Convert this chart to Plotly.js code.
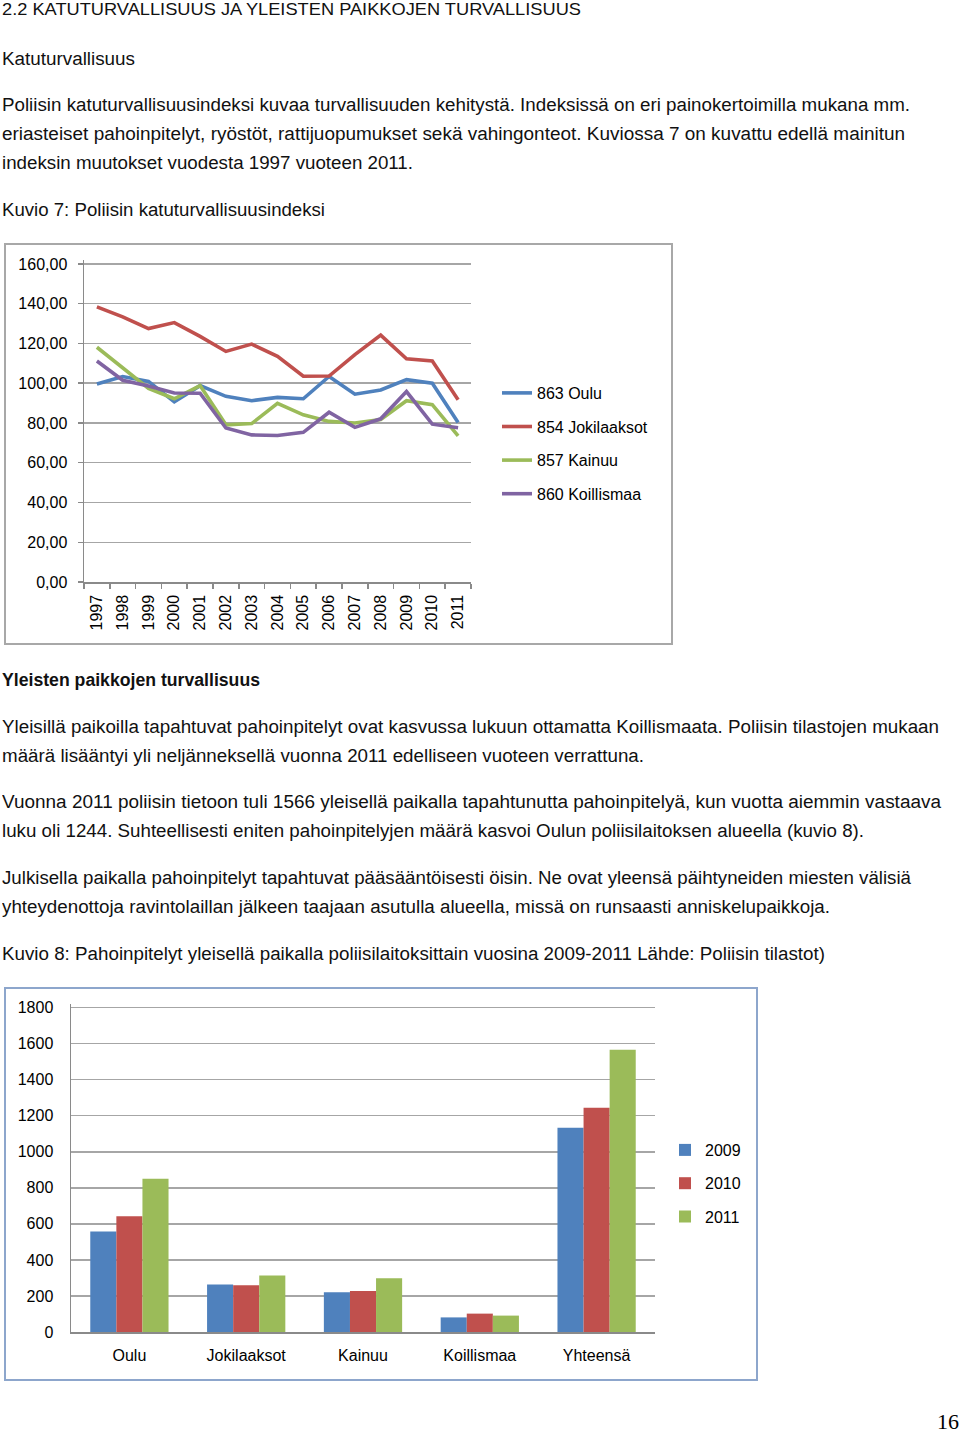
<!DOCTYPE html>
<html>
<head>
<meta charset="utf-8">
<script src="https://cdn.plot.ly/plotly-3.0.1.min.js"></script>
<style>
  html, body { margin:0; padding:0; background:#fff; }
  body { width:960px; height:1433px; position:relative; overflow:hidden; font-family:"Liberation Sans", Arial, sans-serif; color:#111; }
  .ln { position:absolute; left:2px; white-space:nowrap; font-size:18px; line-height:18px; transform-origin:0 50%; display:inline-block; }
  .b { font-weight:bold; }
  .chart { position:absolute; }
  .frame { position:absolute; box-sizing:border-box; pointer-events:none; }
  #pg { position:absolute; left:937px; top:1411px; font-family:"Liberation Serif", "DejaVu Serif", serif; font-size:22px; line-height:22px; color:#000; }
</style>
</head>
<body>
<div class="ln" style="top:1px;font-size:17px;line-height:17px" data-w="579">2.2 KATUTURVALLISUUS JA YLEISTEN PAIKKOJEN TURVALLISUUS</div>
<div class="ln" style="top:50px" data-w="133">Katuturvallisuus</div>
<div class="ln" style="top:96px" data-w="908">Poliisin katuturvallisuusindeksi kuvaa turvallisuuden kehitystä. Indeksissä on eri painokertoimilla mukana mm.</div>
<div class="ln" style="top:125px" data-w="903">eriasteiset pahoinpitelyt, ryöstöt, rattijuopumukset sekä vahingonteot. Kuviossa 7 on kuvattu edellä mainitun</div>
<div class="ln" style="top:154px" data-w="411">indeksin muutokset vuodesta 1997 vuoteen 2011.</div>
<div class="ln" style="top:201px" data-w="323">Kuvio 7: Poliisin katuturvallisuusindeksi</div>

<div id="c1" class="chart" style="left:5px;top:244px;width:667px;height:400px"></div>
<div class="frame" style="left:4px;top:243px;width:669px;height:402px;border:2px solid #a8a8a8"></div>

<div class="ln b" style="top:671px" data-w="258">Yleisten paikkojen turvallisuus</div>
<div class="ln" style="top:718px" data-w="937">Yleisillä paikoilla tapahtuvat pahoinpitelyt ovat kasvussa lukuun ottamatta Koillismaata. Poliisin tilastojen mukaan</div>
<div class="ln" style="top:747px" data-w="642">määrä lisääntyi yli neljänneksellä vuonna 2011 edelliseen vuoteen verrattuna.</div>
<div class="ln" style="top:793px" data-w="939">Vuonna 2011 poliisin tietoon tuli 1566 yleisellä paikalla tapahtunutta pahoinpitelyä, kun vuotta aiemmin vastaava</div>
<div class="ln" style="top:822px" data-w="862">luku oli 1244. Suhteellisesti eniten pahoinpitelyjen määrä kasvoi Oulun poliisilaitoksen alueella (kuvio 8).</div>
<div class="ln" style="top:869px" data-w="909">Julkisella paikalla pahoinpitelyt tapahtuvat pääsääntöisesti öisin. Ne ovat yleensä päihtyneiden miesten välisiä</div>
<div class="ln" style="top:898px" data-w="828">yhteydenottoja ravintolaillan jälkeen taajaan asutulla alueella, missä on runsaasti anniskelupaikkoja.</div>
<div class="ln" style="top:945px" data-w="823">Kuvio 8: Pahoinpitelyt yleisellä paikalla poliisilaitoksittain vuosina 2009-2011 Lähde: Poliisin tilastot)</div>

<div id="c2" class="chart" style="left:5px;top:988px;width:752px;height:392px"></div>
<div class="frame" style="left:4px;top:987px;width:754px;height:394px;border:2px solid #8da6cc"></div>

<div id="pg">16</div>

<script>
// ---- Kuvio 7 data ----
const years = ['1997','1998','1999','2000','2001','2002','2003','2004','2005','2006','2007','2008','2009','2010','2011'];
const seriesNames = ['863 Oulu','854 Jokilaaksot','857 Kainuu','860 Koillismaa'];
const oulu        = [99.6,103.4,100.9,90.6,98.8,93.4,91.2,92.9,92.2,103.4,94.5,96.6,101.8,100.0,80.3];
const jokilaaksot = [138.4,133.4,127.5,130.5,123.6,116.0,119.7,113.5,103.5,103.6,114.4,124.2,112.3,111.2,91.7];
const kainuu      = [118.1,107.9,97.4,92.2,98.8,79.1,79.7,89.9,84.1,80.8,80.0,81.8,91.2,89.2,73.5];
const koillismaa  = [111.2,101.5,98.6,95.1,95.0,77.5,74.0,73.7,75.3,85.4,77.8,82.1,95.8,79.4,77.6];

// ---- Kuvio 8 data ----
const regions = ['Oulu','Jokilaaksot','Kainuu','Koillismaa','Yhteensä'];
const barYears = ['2009','2010','2011'];
const v2009 = [557,263,220,81,1134];
const v2010 = [642,259,228,102,1244];
const v2011 = [851,314,298,91,1566];

const FONT = '"Liberation Sans", Arial, sans-serif';
const lineColors = ['#4f81bd','#c0504d','#9bbb59','#8064a2'];
const lineData = [oulu, jokilaaksot, kainuu, koillismaa];

const traces1 = lineData.map((vals, i) => ({
  type:'scatter', mode:'lines', x: years, y: vals, name: seriesNames[i],
  legendgroup: 'g'+i,
  line:{color: lineColors[i], width:3.6}
}));

const layout1 = {
  width:667, height:400,
  margin:{l:79, r:201, t:16, b:62, pad:0},
  separators:', ',
  paper_bgcolor:'#ffffff', plot_bgcolor:'#ffffff',
  font:{family:FONT, size:16, color:'#000'},
  showlegend:true,
  xaxis:{type:'category', range:[-0.5,14.5], tickangle:-90, ticks:'outside', tickson:'boundaries',
         ticklen:5, tickcolor:'#8a8a8a', tickwidth:1.5, showline:true, linecolor:'#8a8a8a', linewidth:1.5,
         showgrid:false, zeroline:false, tickfont:{size:16, family:FONT}, ticklabelstandoff:5},
  yaxis:{range:[0,162], dtick:20, tick0:0, tickformat:'.2f', ticks:'outside', ticklen:5, tickcolor:'#8a8a8a', tickwidth:1.5,
         showline:true, linecolor:'#8a8a8a', linewidth:1.5, gridcolor:'#a6a6a6', gridwidth:1.5, zeroline:false,
         tickfont:{size:16, family:FONT}, ticklabelstandoff:7},
  legend:{xref:'container', yref:'container', x:492/667, y:1-(132/400), xanchor:'left', yanchor:'top',
          traceorder:'grouped', tracegroupgap:9.8, font:{size:16, family:FONT}, bgcolor:'rgba(0,0,0,0)', borderwidth:0}
};

const barColors = ['#4f81bd','#c0504d','#9bbb59'];
const barData = [v2009, v2010, v2011];
const traces2 = barData.map((vals, i) => ({
  type:'bar', x: regions, y: vals, name: barYears[i], legendgroup:'b'+i,
  marker:{color: barColors[i], line:{width:0}}
}));

const layout2 = {
  width:752, height:392,
  margin:{l:66, r:102, t:16.4, b:48, pad:0},
  paper_bgcolor:'#ffffff', plot_bgcolor:'#ffffff',
  font:{family:FONT, size:16, color:'#000'},
  barmode:'group', bargap:0.33, bargroupgap:0,
  showlegend:true,
  xaxis:{type:'category', showline:true, linecolor:'#8a8a8a', linewidth:1.5, ticks:'', showgrid:false,
         tickfont:{size:16, family:FONT}, ticklabelstandoff:8},
  yaxis:{range:[0,1820], dtick:200, tick0:0, ticks:'', showline:true, linecolor:'#8a8a8a', linewidth:1.5,
         gridcolor:'#a6a6a6', gridwidth:1.5, zeroline:false, tickfont:{size:16, family:FONT}, ticklabelstandoff:13},
  legend:{xref:'container', yref:'container', x:(665-5)/752, y:1-(145/392), xanchor:'left', yanchor:'top',
          traceorder:'grouped', tracegroupgap:9.5, font:{size:16, family:FONT}, bgcolor:'rgba(0,0,0,0)', borderwidth:0}
};

const cfg = {staticPlot:true, displayModeBar:false};
Plotly.newPlot('c1', traces1, layout1, cfg);
Plotly.newPlot('c2', traces2, layout2, cfg);

function fitLines(){
  document.querySelectorAll('.ln').forEach(el => {
    el.style.transform = 'none';
    const target = parseFloat(el.dataset.w);
    const w = el.getBoundingClientRect().width;
    if (w > 0 && target > 0) el.style.transform = 'scaleX(' + (target / w) + ')';
  });
}
fitLines();
if (document.fonts && document.fonts.ready) document.fonts.ready.then(fitLines);
</script>
</body>
</html>
